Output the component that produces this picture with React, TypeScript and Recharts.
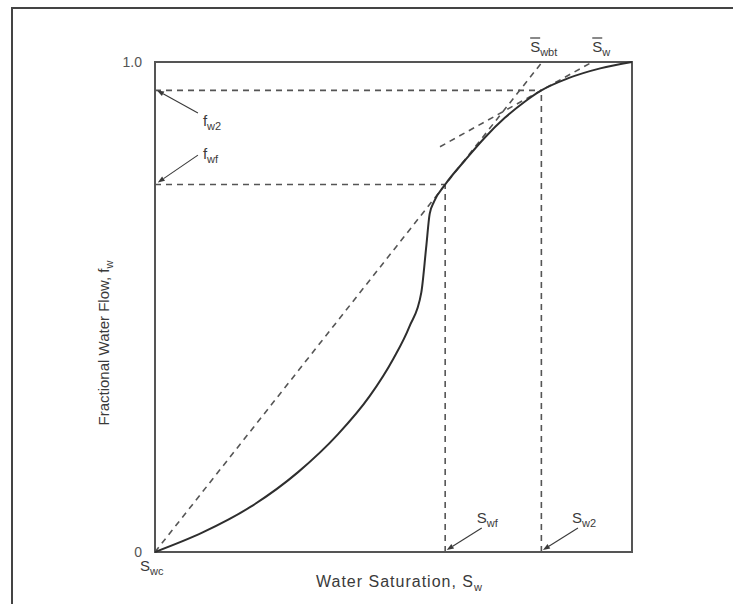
import React from "react";
import {
  LineChart,
  Line,
  XAxis,
  YAxis,
  ReferenceLine,
  ReferenceArea,
  ReferenceDot,
} from "recharts";

const FONT = "'Liberation Sans', Arial, Helvetica, sans-serif";
const INK = "#3a3a3a";
const DASH = "#555";

// Saturation range of the plot: connate water to 1 - residual oil
const SW_MIN = 0.2;
const SW_MAX = 0.8;

// Fractional flow curve f_w(S_w)
const swValues = [
  0.2, 0.26, 0.32, 0.38, 0.43, 0.47, 0.5, 0.52, 0.535, 0.541, 0.5455, 0.551,
  0.565, 0.59, 0.615, 0.64, 0.665, 0.686, 0.72, 0.76, 0.8,
];
const fwValues = [
  0, 0.04, 0.092, 0.163, 0.24, 0.318, 0.395, 0.46, 0.53, 0.62, 0.69, 0.715,
  0.75, 0.7995, 0.846, 0.886, 0.919, 0.942, 0.967, 0.987, 1.0,
];

const yTicks = [0, 1];

// Welge construction points
const swf = 0.565;
const fwf = 0.75;
const sw2 = 0.686;
const fw2 = 0.942;
const swbt = 0.687;
const swAvg = 0.75;
// tangent drawn at (sw2, fw2)
const tangent2Start = [0.5585, 0.827];

// arrows: [fromSw, fromFw, toSw, toFw]
const arrowFw2 = [0.254, 0.896, 0.2025, 0.942];
const arrowFwf = [0.254, 0.81, 0.2035, 0.754];
const arrowSwf = [0.611, 0.049, 0.567, 0.004];
const arrowSw2 = [0.732, 0.049, 0.688, 0.004];

const curveData = swValues.map((sw, i) => ({ sw, fw: fwValues[i] }));

type LabelProps = {
  cx?: number;
  cy?: number;
  dx: number;
  dy: number;
  main: string;
  sub: string;
  bar?: boolean;
};

function SubLabel({ cx = 0, cy = 0, dx, dy, main, sub, bar }: LabelProps) {
  const x = cx + dx;
  const y = cy + dy;
  return (
    <g>
      <text x={x} y={y} fontFamily={FONT} fontSize={15} fill={INK}>
        <tspan>{main}</tspan>
        <tspan dy={4} fontSize={11}>
          {sub}
        </tspan>
      </text>
      {bar && (
        <line x1={x} x2={x + 10} y1={y - 14} y2={y - 14} stroke={INK} strokeWidth={1.2} />
      )}
    </g>
  );
}

function Arrow(props: any) {
  const { x1, y1, x2, y2 } = props;
  const ang = Math.atan2(y2 - y1, x2 - x1);
  const len = 7;
  const half = 2.6;
  const bx = x2 - len * Math.cos(ang);
  const by = y2 - len * Math.sin(ang);
  const px = -Math.sin(ang) * half;
  const py = Math.cos(ang) * half;
  return (
    <g>
      <line x1={x1} y1={y1} x2={bx} y2={by} stroke={INK} strokeWidth={1.1} />
      <polygon
        points={`${x2},${y2} ${bx + px},${by + py} ${bx - px},${by - py}`}
        fill={INK}
      />
    </g>
  );
}

function XLabel(props: any) {
  const { viewBox } = props;
  const x = viewBox.x + viewBox.width / 2 + 6;
  const y = viewBox.y + 35;
  return (
    <text x={x} y={y} textAnchor="middle" fontFamily={FONT} fontSize={16} letterSpacing={1} fill={INK}>
      <tspan>Water Saturation, S</tspan>
      <tspan dy={4} fontSize={11}>
        w
      </tspan>
    </text>
  );
}

function YLabel(props: any) {
  const { viewBox } = props;
  const x = 109;
  const y = viewBox.y + viewBox.height / 2 + 36;
  return (
    <text
      x={x}
      y={y}
      textAnchor="middle"
      transform={`rotate(-90, ${x}, ${y})`}
      fontFamily={FONT}
      fontSize={15}
      fill={INK}
    >
      <tspan>Fractional Water Flow, f</tspan>
      <tspan dy={4} fontSize={11}>
        w
      </tspan>
    </text>
  );
}

const seg = (a: number[]) => [
  { x: a[0], y: a[1] },
  { x: a[2], y: a[3] },
];

export default function App() {
  const dashProps = { stroke: DASH, strokeWidth: 1.6, strokeDasharray: "6 5" };
  return (
    <div
      style={{
        position: "absolute",
        left: 0,
        top: 0,
        width: 733,
        height: 604,
        overflow: "hidden",
        background: "#fff",
      }}
    >
      <div
        style={{
          position: "absolute",
          left: 11,
          top: 7,
          width: 800,
          height: 700,
          borderLeft: "2px solid #444",
          borderTop: "2px solid #444",
        }}
      />
      <div style={{ position: "absolute", left: 0, top: 0 }}>
        <LineChart
          width={733}
          height={604}
          data={curveData}
          margin={{ top: 62, right: 101, bottom: 0, left: 95 }}
        >
          <XAxis
            dataKey="sw"
            type="number"
            domain={[SW_MIN, SW_MAX]}
            allowDataOverflow
            tick={false}
            axisLine={false}
            tickLine={false}
            height={52}
            label={{ content: <XLabel /> }}
          />
          <YAxis
            type="number"
            domain={[0, 1]}
            ticks={yTicks}
            width={60}
            axisLine={false}
            tickLine={false}
            tickSize={0}
            tickMargin={13}
            tick={{ fontSize: 14, fill: "#555", fontFamily: FONT }}
            tickFormatter={(v: number) => (v === 1 ? "1.0" : "0")}
            label={{ content: <YLabel /> }}
          />

          {/* Plot frame */}
          <ReferenceArea
            x1={SW_MIN}
            x2={SW_MAX}
            y1={0}
            y2={1}
            fill="none"
            fillOpacity={0}
            stroke="#555"
            strokeWidth={2}
          />

          {/* Tangent lines */}
          <ReferenceLine segment={[{ x: SW_MIN, y: 0 }, { x: swbt, y: 1 }]} {...dashProps} />
          <ReferenceLine
            segment={[{ x: tangent2Start[0], y: tangent2Start[1] }, { x: swAvg, y: 1 }]}
            {...dashProps}
          />

          {/* Projections to the axes */}
          <ReferenceLine segment={[{ x: SW_MIN, y: fwf }, { x: swf, y: fwf }]} {...dashProps} />
          <ReferenceLine segment={[{ x: SW_MIN, y: fw2 }, { x: sw2, y: fw2 }]} {...dashProps} />
          <ReferenceLine segment={[{ x: swf, y: 0 }, { x: swf, y: fwf }]} {...dashProps} />
          <ReferenceLine segment={[{ x: sw2, y: 0 }, { x: sw2, y: fw2 }]} {...dashProps} />

          <Line
            type="monotone"
            dataKey="fw"
            stroke="#2e2e2e"
            strokeWidth={2}
            dot={false}
            activeDot={false}
            isAnimationActive={false}
          />

          {/* Pointer arrows */}
          <ReferenceLine segment={seg(arrowFw2)} shape={<Arrow />} />
          <ReferenceLine segment={seg(arrowFwf)} shape={<Arrow />} />
          <ReferenceLine segment={seg(arrowSwf)} shape={<Arrow />} />
          <ReferenceLine segment={seg(arrowSw2)} shape={<Arrow />} />

          {/* Annotations */}
          <ReferenceDot
            x={arrowFw2[0]}
            y={arrowFw2[1]}
            r={0}
            shape={<SubLabel dx={5} dy={13} main="f" sub="w2" />}
          />
          <ReferenceDot
            x={arrowFwf[0]}
            y={arrowFwf[1]}
            r={0}
            shape={<SubLabel dx={5} dy={4} main="f" sub="wf" />}
          />
          <ReferenceDot
            x={arrowSwf[0]}
            y={arrowSwf[1]}
            r={0}
            shape={<SubLabel dx={-5} dy={-5} main="S" sub="wf" />}
          />
          <ReferenceDot
            x={arrowSw2[0]}
            y={arrowSw2[1]}
            r={0}
            shape={<SubLabel dx={-6} dy={-5} main="S" sub="w2" />}
          />
          <ReferenceDot
            x={swbt}
            y={1}
            r={0}
            ifOverflow="visible"
            shape={<SubLabel dx={-12} dy={-10} main="S" sub="wbt" bar />}
          />
          <ReferenceDot
            x={swAvg}
            y={1}
            r={0}
            ifOverflow="visible"
            shape={<SubLabel dx={0} dy={-10} main="S" sub="w" bar />}
          />
          <ReferenceDot
            x={SW_MIN}
            y={0}
            r={0}
            ifOverflow="visible"
            shape={<SubLabel dx={-15} dy={19} main="S" sub="wc" />}
          />
        </LineChart>
      </div>
    </div>
  );
}
